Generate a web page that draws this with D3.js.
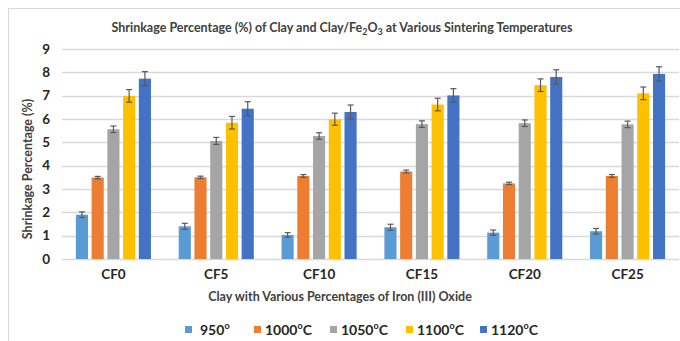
<!DOCTYPE html>
<html>
<head>
<meta charset="utf-8">
<script src="https://cdn.jsdelivr.net/npm/d3@7"></script>
<style>
  html, body { margin: 0; padding: 0; background: #fff; }
  svg { display: block; font-family: Lato, "Open Sans", "Liberation Sans", sans-serif; }
</style>
</head>
<body>
<svg id="chart" width="680" height="341"></svg>
<script>
// Sample groups (clay with increasing Fe2O3 content)
const categories = ["CF0", "CF5", "CF10", "CF15", "CF20", "CF25"];

// Sintering temperatures (legend order)
const seriesNames = ["950", "1000", "1050", "1100", "1120"];
const seriesUnits = ["", "C", "C", "C", "C"];
const seriesColors = ["#5b9bd5", "#ed7d31", "#a5a5a5", "#ffc000", "#4472c4"];

// Shrinkage percentage (%) per temperature, one value per category
const s950  = [1.90, 1.40, 1.03, 1.36, 1.13, 1.19];
const s1000 = [3.49, 3.50, 3.56, 3.75, 3.24, 3.56];
const s1050 = [5.56, 5.06, 5.27, 5.78, 5.82, 5.77];
const s1100 = [6.99, 5.84, 5.99, 6.62, 7.45, 7.10];
const s1120 = [7.73, 6.44, 6.30, 7.01, 7.80, 7.93];

// Standard deviations (error bar half-lengths)
const e950  = [0.12, 0.13, 0.10, 0.13, 0.11, 0.12];
const e1000 = [0.05, 0.05, 0.06, 0.06, 0.05, 0.06];
const e1050 = [0.14, 0.15, 0.14, 0.14, 0.14, 0.14];
const e1100 = [0.27, 0.27, 0.26, 0.27, 0.27, 0.27];
const e1120 = [0.30, 0.30, 0.30, 0.29, 0.31, 0.31];

const yTicks = [0, 1, 2, 3, 4, 5, 6, 7, 8, 9];

const titleText = "Shrinkage Percentage (%) of Clay and Clay/Fe";
const xTitle = "Clay with Various Percentages of Iron (III) Oxide";
const yTitle = "Shrinkage Percentage (%)";

const values = [s950, s1000, s1050, s1100, s1120];
const errors = [e950, e1000, e1050, e1100, e1120];

const svg = d3.select("#chart");
const W = 680, H = 341;
const plot = { left: 62, right: 679, top: 49, bottom: 259 };

// Chart-area frame
svg.append("rect")
  .attr("x", 8.5).attr("y", 8.5)
  .attr("width", W + 10).attr("height", H + 10)
  .attr("fill", "#fff").attr("stroke", "#d9d9d9").attr("stroke-width", 1);

const x0 = d3.scaleBand().domain(categories).range([plot.left, plot.right]).paddingInner(0.27).paddingOuter(0.135);
const x1 = d3.scaleBand().domain(seriesNames).range([0, x0.bandwidth()]).paddingInner(0.23);
const y = d3.scaleLinear().domain([0, 9]).range([plot.bottom, plot.top]);

// Horizontal gridlines
svg.append("g").selectAll("line").data(yTicks).join("line")
  .attr("x1", plot.left).attr("x2", plot.right)
  .attr("y1", d => Math.round(y(d)) + 0.5).attr("y2", d => Math.round(y(d)) + 0.5)
  .attr("stroke", "#d9d9d9").attr("stroke-width", 1.3);

// Y axis tick labels
const yAxis = d3.axisLeft(y).tickValues(yTicks).tickSize(0).tickPadding(12).tickFormat(d3.format("d"));
const gy = svg.append("g").attr("transform", `translate(${plot.left},0)`).call(yAxis);
gy.select(".domain").remove();
gy.selectAll("text").attr("font-size", 13.5).attr("font-weight", 700).attr("fill", "#262626")
  .attr("font-family", "Lato, sans-serif");

// Bars
const rows = [];
categories.forEach((c, i) => {
  seriesNames.forEach((s, j) => {
    rows.push({ cat: c, ser: s, v: values[j][i], e: errors[j][i], color: seriesColors[j] });
  });
});

const bars = svg.append("g");
bars.selectAll("rect").data(rows).join("rect")
  .attr("x", d => x0(d.cat) + x1(d.ser))
  .attr("y", d => y(d.v))
  .attr("width", x1.bandwidth())
  .attr("height", d => y(0) - y(d.v))
  .attr("fill", d => d.color);

// Error bars
const eb = svg.append("g").attr("stroke", "#595959").attr("stroke-width", 1.2);
rows.forEach(d => {
  const cx = x0(d.cat) + x1(d.ser) + x1.bandwidth() / 2;
  const yt = y(d.v + d.e), yb = y(d.v - d.e);
  eb.append("line").attr("x1", cx).attr("x2", cx).attr("y1", yt).attr("y2", yb);
  eb.append("line").attr("x1", cx - 3).attr("x2", cx + 3).attr("y1", yt).attr("y2", yt);
  eb.append("line").attr("x1", cx - 3).attr("x2", cx + 3).attr("y1", yb).attr("y2", yb);
});

// X axis (category labels)
const xAxis = d3.axisBottom(x0).tickSize(0).tickPadding(10);
const gx = svg.append("g").attr("transform", `translate(0,${plot.bottom})`).call(xAxis);
gx.select(".domain").remove();
gx.selectAll("text").attr("font-size", 13.5).attr("font-weight", 700).attr("fill", "#262626")
  .attr("font-family", "Lato, sans-serif");

// Title with Fe2O3 subscripts
const title = svg.append("text")
  .attr("x", 342).attr("y", 32)
  .attr("text-anchor", "middle")
  .attr("font-size", 12.5).attr("font-weight", 700).attr("fill", "#404040");
title.append("tspan").text(titleText);
title.append("tspan").attr("font-size", 9).attr("dy", 3).text("2");
title.append("tspan").attr("dy", -3).text("O");
title.append("tspan").attr("font-size", 9).attr("dy", 3).text("3");
title.append("tspan").attr("dy", -3).text(" at Various Sintering Temperatures");

// Axis titles
svg.append("text")
  .attr("x", 340).attr("y", 301)
  .attr("text-anchor", "middle")
  .attr("font-size", 12.5).attr("font-weight", 700).attr("fill", "#404040")
  .text(xTitle);

svg.append("text")
  .attr("transform", "translate(32,169) rotate(-90)")
  .attr("text-anchor", "middle")
  .attr("font-size", 12.5).attr("font-weight", 700).attr("fill", "#404040")
  .text(yTitle);

// Legend
const legendX = [185, 254, 330, 406, 480];
const lg = svg.append("g").attr("transform", "translate(0,330)");
seriesNames.forEach((s, j) => {
  const item = lg.append("g").attr("transform", `translate(${legendX[j]},0)`);
  item.append("rect").attr("x", 0).attr("y", -4).attr("width", 7).attr("height", 7).attr("fill", seriesColors[j]);
  const t = item.append("text").attr("x", j === 0 ? 15 : 11).attr("y", 5)
    .attr("font-size", 14).attr("font-weight", 700).attr("fill", "#262626");
  t.append("tspan").text(s);
  t.append("tspan").attr("font-size", 9).attr("dy", -6).text("o");
  t.append("tspan").attr("dy", 6).text(seriesUnits[j]);
});
</script>
</body>
</html>
